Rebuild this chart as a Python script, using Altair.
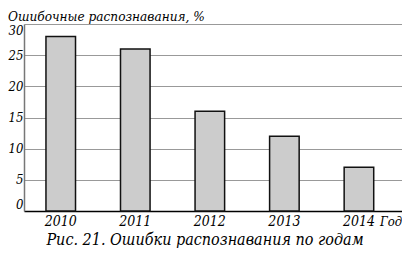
import altair as alt
import pandas as pd

years = ["2010", "2011", "2012", "2013", "2014"]
errors = [28, 26, 16, 12, 7]
y_ticks = [0, 5, 10, 15, 20, 25, 30]

title_text = "Ошибочные распознавания, %"
caption_text = "Рис. 21. Ошибки распознавания по годам"
x_unit = "Год"

FONT = "DejaVu Serif Condensed, DejaVu Serif"

df = pd.DataFrame({"year": years, "value": errors})

W, H = 378, 187

base = alt.Chart(df)

bars = base.mark_bar(fill="#cccccc", stroke="#111111", strokeWidth=1.5).encode(
    x=alt.X(
        "year:N",
        sort=years,
        scale=alt.Scale(paddingInner=0.6035, paddingOuter=0.337, align=0.437),
        axis=alt.Axis(
            title=None, labelAngle=0, ticks=False, domainColor="#000000",
            domainWidth=1.5, labelFont=FONT, labelFontStyle="italic",
            labelFontSize=14, labelColor="#000000", labelPadding=3, grid=False,
        ),
    ),
    y=alt.Y(
        "value:Q",
        scale=alt.Scale(domain=[0, 30], nice=False),
        axis=alt.Axis(
            title=None, values=y_ticks, ticks=False, domainColor="#777777",
            domainWidth=1.5, grid=True, gridColor="#999999", gridWidth=1,
            labelFont=FONT, labelFontStyle="italic", labelFontSize=13,
            labelColor="#000000", labelPadding=1, labelFlush=True,
        ),
    ),
)

title = alt.Chart(pd.DataFrame({"t": [title_text]})).mark_text(
    font=FONT, fontStyle="italic", fontSize=13.5, align="left", baseline="alphabetic", color="#000000"
).encode(text="t:N", x=alt.value(-16), y=alt.value(-3.5))

cap = alt.Chart(pd.DataFrame({"t": [caption_text]})).mark_text(
    font=FONT, fontStyle="italic", fontSize=16, align="center", baseline="alphabetic", color="#000000"
).encode(text="t:N", x=alt.value(181), y=alt.value(220.5))

unit = alt.Chart(pd.DataFrame({"t": [x_unit]})).mark_text(
    font=FONT, fontStyle="italic", fontSize=13, align="left", baseline="alphabetic", color="#000000"
).encode(text="t:N", x=alt.value(356), y=alt.value(202))

chart = alt.layer(bars, title, cap, unit).properties(
    width=W, height=H,
    autosize=alt.AutoSizeParams(type="none"),
    padding={"left": 16, "top": 16, "right": 0, "bottom": 37},
).configure_view(stroke=None).configure_axis(gridOpacity=1)

chart.save("out.html", embed_options={"renderer": "svg", "actions": False})
